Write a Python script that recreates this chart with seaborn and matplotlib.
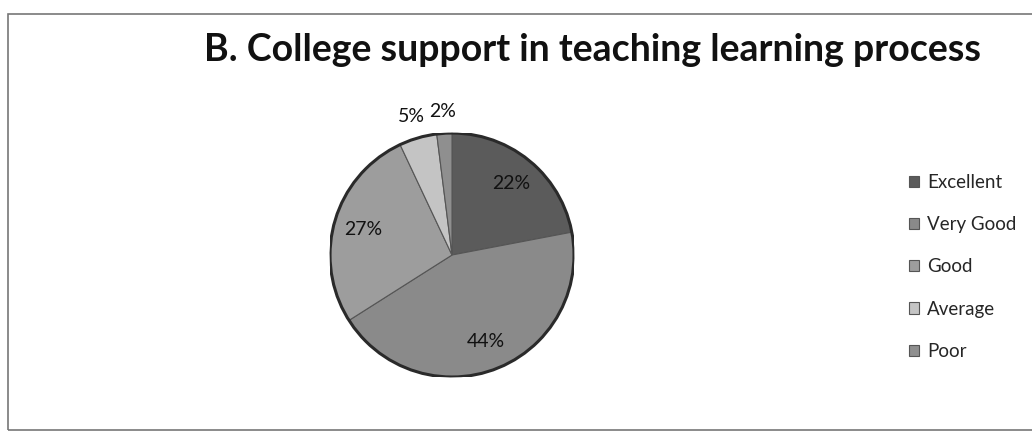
import matplotlib
matplotlib.use("Agg")
import matplotlib.pyplot as plt
import numpy as np
import seaborn as sns
from matplotlib.patches import Rectangle, Circle

categories = ["Excellent", "Very Good", "Good", "Average", "Poor"]
shares = [22, 44, 27, 5, 2]
colors = ["#5b5b5b", "#8a8a8a", "#9d9d9d", "#c4c4c4", "#8f8f8f"]
title = "B. College support in teaching learning process"

sns.set_theme(style="white")
plt.rcParams["font.family"] = ["Lato", "DejaVu Sans"]

fig = plt.figure(figsize=(10.32, 4.34), dpi=100)

# frame around the whole picture
fig.patches.append(Rectangle((0.008, 0.01), 0.995, 0.958, transform=fig.transFigure,
                             fill=False, edgecolor="#777777", linewidth=1.2))

ax = fig.add_axes([0.3198, 0.1313, 0.2364, 0.5622])
wedges, texts, autotexts = ax.pie(
    shares, colors=colors, startangle=90, counterclock=False,
    autopct="%d%%", pctdistance=0.76,
    wedgeprops=dict(edgecolor="#555555", linewidth=0.8),
    textprops=dict(fontsize=14, color="#111111"))
ax.add_patch(Circle((0, 0), 1, fill=False, edgecolor="#2a2a2a", linewidth=2.2))

# small slices get their labels outside the pie
for w, t, v in zip(wedges, autotexts, shares):
    if v < 10:
        ang = np.deg2rad((w.theta1 + w.theta2) / 2)
        t.set_position((1.18 * np.cos(ang), 1.18 * np.sin(ang)))
        t.set_clip_on(False)

ax.set_xlim(-1, 1)
ax.set_ylim(-1, 1)
ax.set_aspect("equal")
ax.axis("off")

fig.text(0.574, 0.885, title, ha="center", va="center",
         fontsize=27, fontweight="bold", color="#111111")

fig.legend(wedges, categories, loc="center left", bbox_to_anchor=(0.864, 0.385),
           frameon=False, fontsize=13.5, handlelength=0.55, handleheight=0.55,
           handletextpad=0.45, labelspacing=1.35)

fig.savefig("out.png", dpi=100)
